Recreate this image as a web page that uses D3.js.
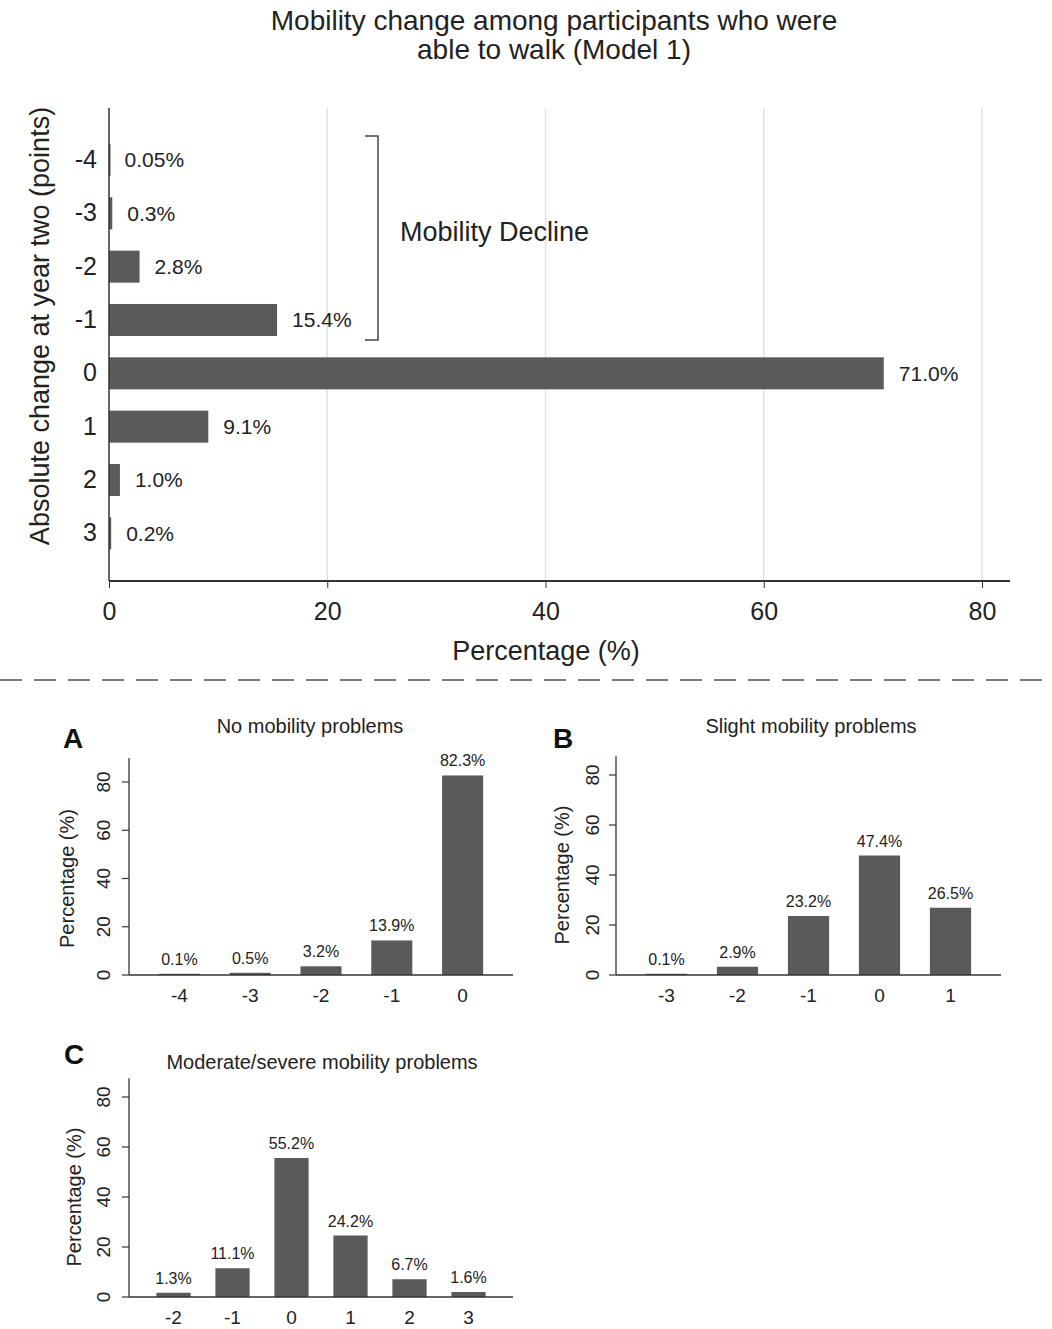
<!DOCTYPE html>
<html>
<head>
<meta charset="utf-8">
<script src="https://cdn.jsdelivr.net/npm/d3@7"></script>
<style>
  body { margin: 0; background: #fff; }
  svg { display: block; font-family: "Liberation Sans", Arial, sans-serif; }
</style>
</head>
<body>
<div id="chart"></div>
<script>
// Main chart: mobility change among participants able to walk (Model 1)
const mainCategories = ['-4', '-3', '-2', '-1', '0', '1', '2', '3'];
const mainValues = [0.05, 0.3, 2.8, 15.4, 71.0, 9.1, 1.0, 0.2];
const mainLabels = ['0.05%', '0.3%', '2.8%', '15.4%', '71.0%', '9.1%', '1.0%', '0.2%'];
const mainTicks = [0, 20, 40, 60, 80];

// Panel A: no mobility problems
const aCategories = ['-4', '-3', '-2', '-1', '0'];
const aValues = [0.1, 0.5, 3.2, 13.9, 82.3];

// Panel B: slight mobility problems
const bCategories = ['-3', '-2', '-1', '0', '1'];
const bValues = [0.1, 2.9, 23.2, 47.4, 26.5];

// Panel C: moderate/severe mobility problems
const cCategories = ['-2', '-1', '0', '1', '2', '3'];
const cValues = [1.3, 11.1, 55.2, 24.2, 6.7, 1.6];

const panelTicks = [0, 20, 40, 60, 80];

const W = 1052, H = 1329;
const barColor = '#5a5a5a';
const axisColor = '#333';
const fontFamily = '"Liberation Sans", Arial, sans-serif';

const svg = d3.select('#chart').append('svg')
  .attr('width', W)
  .attr('height', H);

svg.append('rect').attr('width', W).attr('height', H).attr('fill', '#fff');

// ---------- main horizontal bar chart ----------
const main = { left: 109, right: 982, axisEnd: 1010, top: 108, bottom: 581 };

const x = d3.scaleLinear().domain([0, 80]).range([main.left, main.right]);
const y = d3.scaleBand()
  .domain(mainCategories)
  .range([133.3, 560])
  .paddingInner(0.4)
  .paddingOuter(0.2);

// title (two lines)
svg.append('text')
  .attr('text-anchor', 'middle')
  .attr('font-size', 28)
  .attr('fill', '#222')
  .selectAll('tspan')
  .data(['Mobility change among participants who were', 'able to walk (Model 1)'])
  .join('tspan')
  .attr('x', 554)
  .attr('y', (d, i) => 30 + i * 29)
  .text(d => d);

// gridlines
svg.append('g')
  .selectAll('line')
  .data(mainTicks.filter(t => t > 0))
  .join('line')
  .attr('x1', d => x(d)).attr('x2', d => x(d))
  .attr('y1', main.top).attr('y2', main.bottom)
  .attr('stroke', '#e2e2e2')
  .attr('stroke-width', 1.5);

// bars
svg.append('g')
  .selectAll('rect')
  .data(mainValues)
  .join('rect')
  .attr('x', x(0))
  .attr('y', (d, i) => y(mainCategories[i]))
  .attr('width', d => Math.max(x(d) - x(0), 1.5))
  .attr('height', y.bandwidth())
  .attr('fill', barColor);

// value labels
svg.append('g')
  .selectAll('text')
  .data(mainValues)
  .join('text')
  .attr('x', d => x(d) + 15)
  .attr('y', (d, i) => y(mainCategories[i]) + y.bandwidth() / 2)
  .attr('dy', '0.35em')
  .attr('font-size', 21)
  .attr('fill', '#222')
  .text((d, i) => mainLabels[i]);

// x axis
const xAxis = svg.append('g')
  .attr('transform', `translate(0,${main.bottom})`)
  .call(d3.axisBottom(x).tickValues(mainTicks).tickSize(7).tickPadding(14).tickSizeOuter(0));
xAxis.select('.domain').remove();
xAxis.append('line')
  .attr('x1', main.left).attr('x2', main.axisEnd)
  .attr('stroke', axisColor).attr('stroke-width', 2);
xAxis.selectAll('.tick line').attr('stroke', axisColor);
xAxis.selectAll('.tick text')
  .attr('font-size', 25)
  .attr('font-family', fontFamily)
  .attr('fill', '#222');

// y axis
const yAxis = svg.append('g')
  .attr('transform', `translate(${main.left},0)`)
  .call(d3.axisLeft(y).tickSize(0).tickPadding(12));
yAxis.select('.domain').remove();
yAxis.append('line')
  .attr('y1', main.top).attr('y2', main.bottom)
  .attr('stroke', axisColor).attr('stroke-width', 1.5);
yAxis.selectAll('.tick text')
  .attr('font-size', 25)
  .attr('font-family', fontFamily)
  .attr('fill', '#222');

// axis titles
svg.append('text')
  .attr('x', 546).attr('y', 660)
  .attr('text-anchor', 'middle')
  .attr('font-size', 27)
  .attr('fill', '#222')
  .text('Percentage (%)');

svg.append('text')
  .attr('transform', `translate(49,326) rotate(-90)`)
  .attr('text-anchor', 'middle')
  .attr('font-size', 27)
  .attr('fill', '#222')
  .text('Absolute change at year two (points)');

// "Mobility Decline" bracket spanning -4 .. -1
const bTop = y('-4') - 8, bBot = y('-1') + y.bandwidth() + 4;
svg.append('path')
  .attr('d', `M365,${bTop}H378V${bBot}H365`)
  .attr('fill', 'none')
  .attr('stroke', '#444')
  .attr('stroke-width', 1.5);
svg.append('text')
  .attr('x', 400).attr('y', 241)
  .attr('font-size', 27)
  .attr('fill', '#222')
  .text('Mobility Decline');

// dashed separator
svg.append('line')
  .attr('x1', 0).attr('x2', W)
  .attr('y1', 680).attr('y2', 680)
  .attr('stroke', '#555')
  .attr('stroke-width', 1.5)
  .attr('stroke-dasharray', '22,12');

// ---------- small panels ----------
function drawPanel(p) {
  const g = svg.append('g');
  const xs = d3.scaleBand()
    .domain(p.categories)
    .range([p.axisX + 15, p.axisEnd - 15])
    .paddingInner(0.42)
    .paddingOuter(0.21);
  const ys = d3.scaleLinear().domain([0, 80]).range([p.y0, p.y80]);

  // bars
  g.selectAll('rect.bar')
    .data(p.values)
    .join('rect')
    .attr('class', 'bar')
    .attr('x', (d, i) => xs(p.categories[i]))
    .attr('y', d => ys(d) - 1)
    .attr('width', xs.bandwidth())
    .attr('height', d => ys(0) - ys(d) + 1)
    .attr('fill', barColor);

  // value labels
  g.selectAll('text.val')
    .data(p.values)
    .join('text')
    .attr('class', 'val')
    .attr('x', (d, i) => xs(p.categories[i]) + xs.bandwidth() / 2)
    .attr('y', d => ys(d) - 10)
    .attr('text-anchor', 'middle')
    .attr('font-size', 16)
    .attr('fill', '#222')
    .text(d => d.toFixed(1) + '%');

  // axes lines
  g.append('line')
    .attr('x1', p.axisX).attr('x2', p.axisX)
    .attr('y1', p.y0).attr('y2', ys(p.yTop))
    .attr('stroke', axisColor).attr('stroke-width', 1.3);
  g.append('line')
    .attr('x1', p.axisX).attr('x2', p.axisEnd)
    .attr('y1', p.y0).attr('y2', p.y0)
    .attr('stroke', axisColor).attr('stroke-width', 1.3);

  // y ticks
  const yt = g.append('g');
  yt.selectAll('line')
    .data(panelTicks)
    .join('line')
    .attr('x1', p.axisX - 7).attr('x2', p.axisX)
    .attr('y1', d => ys(d)).attr('y2', d => ys(d))
    .attr('stroke', axisColor).attr('stroke-width', 1.2);
  yt.selectAll('text')
    .data(panelTicks)
    .join('text')
    .attr('transform', d => `translate(${p.axisX - p.tickOff},${ys(d)}) rotate(-90)`)
    .attr('text-anchor', 'middle')
    .attr('font-size', 19)
    .attr('fill', '#222')
    .text(d => d);

  // x tick labels
  g.selectAll('text.xt')
    .data(p.categories)
    .join('text')
    .attr('class', 'xt')
    .attr('x', d => xs(d) + xs.bandwidth() / 2)
    .attr('y', p.y0 + 27)
    .attr('text-anchor', 'middle')
    .attr('font-size', 19)
    .attr('fill', '#222')
    .text(d => d);

  // y title
  g.append('text')
    .attr('transform', `translate(${p.axisX - p.titleOff},${(ys(0) + ys(80)) / 2}) rotate(-90)`)
    .attr('text-anchor', 'middle')
    .attr('font-size', 20)
    .attr('fill', '#222')
    .text('Percentage (%)');

  // panel title and letter
  g.append('text')
    .attr('x', p.titleX).attr('y', p.titleY)
    .attr('text-anchor', 'middle')
    .attr('font-size', 20)
    .attr('fill', '#222')
    .text(p.title);
  g.append('text')
    .attr('x', p.letterX).attr('y', p.letterY)
    .attr('font-size', 28)
    .attr('font-weight', 'bold')
    .attr('fill', '#111')
    .text(p.letter);
}

drawPanel({
  categories: aCategories, values: aValues,
  axisX: 129, axisEnd: 513, y0: 975, y80: 782, yTop: 90,
  tickOff: 19, titleOff: 55,
  title: 'No mobility problems', titleX: 310, titleY: 733,
  letter: 'A', letterX: 63, letterY: 748
});

drawPanel({
  categories: bCategories, values: bValues,
  axisX: 616, axisEnd: 1001, y0: 975, y80: 775, yTop: 87.5,
  tickOff: 17, titleOff: 47,
  title: 'Slight mobility problems', titleX: 811, titleY: 733,
  letter: 'B', letterX: 553, letterY: 748
});

drawPanel({
  categories: cCategories, values: cValues,
  axisX: 129, axisEnd: 513, y0: 1297, y80: 1097, yTop: 87.5,
  tickOff: 19, titleOff: 48,
  title: 'Moderate/severe mobility problems', titleX: 322, titleY: 1069,
  letter: 'C', letterX: 64, letterY: 1064
});
</script>
</body>
</html>
